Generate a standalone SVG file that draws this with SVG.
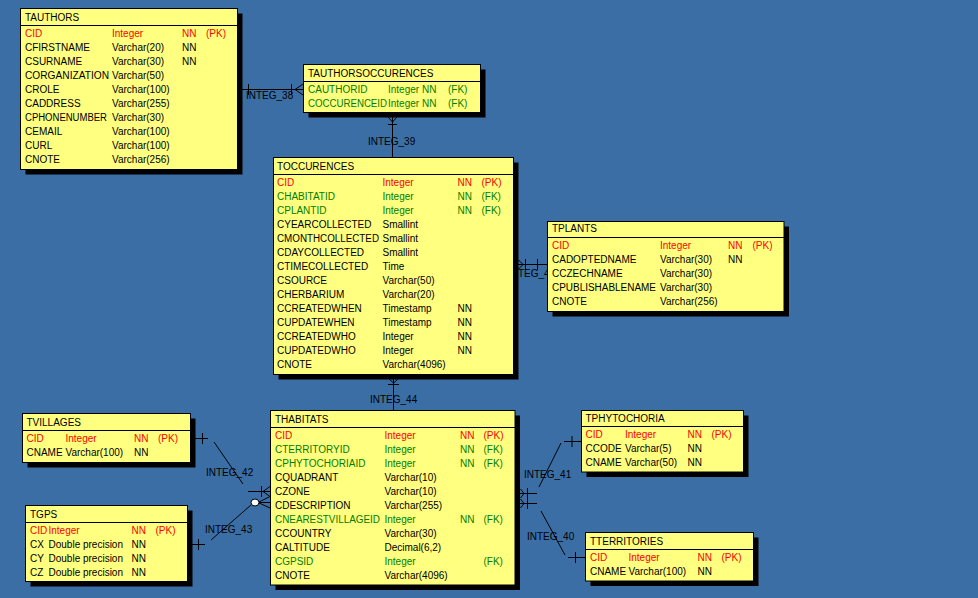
<svg xmlns="http://www.w3.org/2000/svg" width="978" height="598" viewBox="0 0 978 598">
<style>
text{font-family:"Liberation Sans",Arial,sans-serif;font-size:10px;fill:#000}
.r{fill:#ff0000}
.g{fill:#008000}
.box{fill:#ffff80;stroke:#000;stroke-width:1}
.sh{fill:#000}
.sep{stroke:#000;stroke-width:1}
.c line,.c polyline{stroke:#000;stroke-width:1;fill:none}
</style>
<rect width="978" height="598" fill="#3a6ea5"/>
<g id="connectors" class="c">
  <!-- INTEG_38 -->
  <line x1="242" y1="89.5" x2="303" y2="89.5"/>
  <line x1="248.5" y1="84" x2="248.5" y2="95"/>
  <line x1="291.5" y1="84" x2="291.5" y2="95"/>
  <polyline points="303,84 295,89.5 303,95"/>
  <text x="246" y="99">INTEG_38</text>
  <!-- INTEG_39 -->
  <line x1="392.5" y1="117" x2="392.5" y2="157"/>
  <polyline points="388,117 392.5,122 397,117"/>
  <line x1="388" y1="124.5" x2="397" y2="124.5"/>
  <text x="368" y="145">INTEG_39</text>
  <!-- INTEG_44 -->
  <line x1="393.5" y1="379" x2="393.5" y2="410"/>
  <polyline points="389,379 393.5,383 398,379"/>
  <line x1="388" y1="384.5" x2="399" y2="384.5"/>
  <text x="370" y="403">INTEG_44</text>
  <!-- INTEG_4x to TPLANTS -->
  <line x1="518" y1="264.5" x2="547" y2="264.5"/>
  <polyline points="518.5,260 523,264.5 518.5,269"/>
  <line x1="525.5" y1="259" x2="525.5" y2="270"/>
  <line x1="537.5" y1="259" x2="537.5" y2="270"/>
  <text x="518" y="277">TEG_4</text>
  <!-- INTEG_42 -->
  <line x1="195" y1="438.5" x2="208" y2="438.5"/>
  <line x1="202.5" y1="433" x2="202.5" y2="444"/>
  <line x1="214" y1="442" x2="243" y2="484"/>
  <line x1="248" y1="491.5" x2="270" y2="491.5"/>
  <line x1="261.5" y1="486" x2="261.5" y2="497"/>
  <polyline points="270,486.5 263,491.5 270,496.5"/>
  <text x="206" y="476">INTEG_42</text>
  <!-- INTEG_43 -->
  <line x1="187" y1="544.5" x2="205" y2="544.5"/>
  <line x1="198.5" y1="539" x2="198.5" y2="550"/>
  <line x1="211" y1="540" x2="251" y2="505"/>
  <polyline points="270,496.5 258,502.5 270,508"/>
  <line x1="258" y1="502.5" x2="270" y2="502.5"/>
  <ellipse cx="255" cy="502.5" rx="4" ry="3.5" fill="#fff" stroke="#000"/>
  <text x="205" y="533">INTEG_43</text>
  <!-- INTEG_41 -->
  <line x1="520" y1="493.5" x2="537" y2="493.5"/>
  <polyline points="520.5,489 524,493.5 520.5,498"/>
  <line x1="527.5" y1="488" x2="527.5" y2="499"/>
  <line x1="539" y1="487" x2="561" y2="443"/>
  <line x1="564" y1="441.5" x2="582" y2="441.5"/>
  <line x1="572" y1="436" x2="572" y2="447"/>
  <text x="524" y="478">INTEG_41</text>
  <!-- INTEG_40 -->
  <line x1="520" y1="503.5" x2="537" y2="503.5"/>
  <polyline points="520.5,499 524,503.5 520.5,508"/>
  <line x1="527.5" y1="498" x2="527.5" y2="509"/>
  <line x1="541" y1="511" x2="565" y2="555"/>
  <line x1="568" y1="557.5" x2="586" y2="557.5"/>
  <line x1="575.5" y1="552" x2="575.5" y2="563"/>
  <text x="527" y="540">INTEG_40</text>
</g>

<g id="TAUTHORS">
  <rect class="sh" x="25.5" y="13.5" width="217" height="161"/>
  <rect class="box" x="20.5" y="8.5" width="217" height="161"/>
  <line class="sep" x1="20.5" y1="25.5" x2="237.5" y2="25.5"/>
  <text x="25" y="21">TAUTHORS</text>
  <text class="r" y="37"><tspan x="25">CID</tspan><tspan x="112">Integer</tspan><tspan x="182">NN</tspan><tspan x="206">(PK)</tspan></text>
  <text y="51"><tspan x="25">CFIRSTNAME</tspan><tspan x="112">Varchar(20)</tspan><tspan x="182">NN</tspan></text>
  <text y="65"><tspan x="25">CSURNAME</tspan><tspan x="112">Varchar(30)</tspan><tspan x="182">NN</tspan></text>
  <text y="79"><tspan x="25" textLength="84" lengthAdjust="spacingAndGlyphs">CORGANIZATION</tspan><tspan x="112">Varchar(50)</tspan></text>
  <text y="93"><tspan x="25">CROLE</tspan><tspan x="112">Varchar(100)</tspan></text>
  <text y="107"><tspan x="25">CADDRESS</tspan><tspan x="112">Varchar(255)</tspan></text>
  <text y="121"><tspan x="25" textLength="82" lengthAdjust="spacingAndGlyphs">CPHONENUMBER</tspan><tspan x="112">Varchar(30)</tspan></text>
  <text y="135"><tspan x="25">CEMAIL</tspan><tspan x="112">Varchar(100)</tspan></text>
  <text y="149"><tspan x="25">CURL</tspan><tspan x="112">Varchar(100)</tspan></text>
  <text y="163"><tspan x="25">CNOTE</tspan><tspan x="112">Varchar(256)</tspan></text>
</g>

<g id="TAUTHORSOCCURENCES">
  <rect class="sh" x="308.5" y="69.5" width="177" height="48"/>
  <rect class="box" x="303.5" y="64.5" width="177" height="48"/>
  <line class="sep" x1="303.5" y1="81.5" x2="480.5" y2="81.5"/>
  <text x="308" y="77">TAUTHORSOCCURENCES</text>
  <text class="g" y="93"><tspan x="308">CAUTHORID</tspan><tspan x="388">Integer NN</tspan><tspan x="448">(FK)</tspan></text>
  <text class="g" y="107"><tspan x="308" textLength="79" lengthAdjust="spacingAndGlyphs">COCCURENCEID</tspan><tspan x="388">Integer NN</tspan><tspan x="448">(FK)</tspan></text>
</g>

<g id="TOCCURENCES">
  <rect class="sh" x="278.5" y="162.5" width="240" height="217"/>
  <rect class="box" x="273.5" y="157.5" width="240" height="217"/>
  <line class="sep" x1="273.5" y1="174.5" x2="513.5" y2="174.5"/>
  <text x="277" y="170">TOCCURENCES</text>
  <text class="r" y="186"><tspan x="277">CID</tspan><tspan x="382.5">Integer</tspan><tspan x="457.5">NN</tspan><tspan x="481.5">(PK)</tspan></text>
  <text class="g" y="200"><tspan x="277">CHABITATID</tspan><tspan x="382.5">Integer</tspan><tspan x="457.5">NN</tspan><tspan x="481.5">(FK)</tspan></text>
  <text class="g" y="214"><tspan x="277">CPLANTID</tspan><tspan x="382.5">Integer</tspan><tspan x="457.5">NN</tspan><tspan x="481.5">(FK)</tspan></text>
  <text y="228"><tspan x="277">CYEARCOLLECTED</tspan><tspan x="382.5">Smallint</tspan></text>
  <text y="242"><tspan x="277" textLength="102" lengthAdjust="spacingAndGlyphs">CMONTHCOLLECTED</tspan><tspan x="382.5">Smallint</tspan></text>
  <text y="256"><tspan x="277">CDAYCOLLECTED</tspan><tspan x="382.5">Smallint</tspan></text>
  <text y="270"><tspan x="277">CTIMECOLLECTED</tspan><tspan x="382.5">Time</tspan></text>
  <text y="284"><tspan x="277">CSOURCE</tspan><tspan x="382.5">Varchar(50)</tspan></text>
  <text y="298"><tspan x="277">CHERBARIUM</tspan><tspan x="382.5">Varchar(20)</tspan></text>
  <text y="312"><tspan x="277">CCREATEDWHEN</tspan><tspan x="382.5">Timestamp</tspan><tspan x="457.5">NN</tspan></text>
  <text y="326"><tspan x="277">CUPDATEWHEN</tspan><tspan x="382.5">Timestamp</tspan><tspan x="457.5">NN</tspan></text>
  <text y="340"><tspan x="277">CCREATEDWHO</tspan><tspan x="382.5">Integer</tspan><tspan x="457.5">NN</tspan></text>
  <text y="354"><tspan x="277">CUPDATEDWHO</tspan><tspan x="382.5">Integer</tspan><tspan x="457.5">NN</tspan></text>
  <text y="368"><tspan x="277">CNOTE</tspan><tspan x="382.5">Varchar(4096)</tspan></text>
</g>

<g id="TPLANTS">
  <rect class="sh" x="552.5" y="226.5" width="236.5" height="90"/>
  <rect class="box" x="547.5" y="221.5" width="236.5" height="90"/>
  <line class="sep" x1="547.5" y1="237.5" x2="784" y2="237.5"/>
  <text x="552" y="232">TPLANTS</text>
  <text class="r" y="249"><tspan x="552">CID</tspan><tspan x="660">Integer</tspan><tspan x="728">NN</tspan><tspan x="752.5">(PK)</tspan></text>
  <text y="263"><tspan x="552">CADOPTEDNAME</tspan><tspan x="660">Varchar(30)</tspan><tspan x="728">NN</tspan></text>
  <text y="277"><tspan x="552">CCZECHNAME</tspan><tspan x="660">Varchar(30)</tspan></text>
  <text y="291"><tspan x="552" textLength="104" lengthAdjust="spacingAndGlyphs">CPUBLISHABLENAME</tspan><tspan x="660">Varchar(30)</tspan></text>
  <text y="305"><tspan x="552">CNOTE</tspan><tspan x="660">Varchar(256)</tspan></text>
</g>

<g id="TVILLAGES">
  <rect class="sh" x="27.5" y="418.5" width="168" height="49"/>
  <rect class="box" x="22.5" y="413.5" width="168" height="49"/>
  <line class="sep" x1="22.5" y1="430.5" x2="190.5" y2="430.5"/>
  <text x="26.5" y="426">TVILLAGES</text>
  <text class="r" y="442"><tspan x="26.5">CID</tspan><tspan x="65.5">Integer</tspan><tspan x="134">NN</tspan><tspan x="158">(PK)</tspan></text>
  <text y="456"><tspan x="26.5">CNAME</tspan><tspan x="65.5">Varchar(100)</tspan><tspan x="134">NN</tspan></text>
</g>

<g id="TGPS">
  <rect class="sh" x="30.5" y="510.5" width="162" height="76"/>
  <rect class="box" x="25.5" y="505.5" width="162" height="76"/>
  <line class="sep" x1="25.5" y1="522.5" x2="187.5" y2="522.5"/>
  <text x="30" y="518">TGPS</text>
  <text class="r" y="534"><tspan x="30">CID</tspan><tspan x="48.5">Integer</tspan><tspan x="131.5">NN</tspan><tspan x="155.5">(PK)</tspan></text>
  <text y="548"><tspan x="30">CX</tspan><tspan x="48.5">Double precision</tspan><tspan x="131.5">NN</tspan></text>
  <text y="562"><tspan x="30">CY</tspan><tspan x="48.5">Double precision</tspan><tspan x="131.5">NN</tspan></text>
  <text y="576"><tspan x="30">CZ</tspan><tspan x="48.5">Double precision</tspan><tspan x="131.5">NN</tspan></text>
</g>

<g id="THABITATS">
  <rect class="sh" x="275.5" y="415.5" width="244.5" height="174.5"/>
  <rect class="box" x="270.5" y="410.5" width="244.5" height="174.5"/>
  <line class="sep" x1="270.5" y1="427.5" x2="515" y2="427.5"/>
  <text x="275" y="423">THABITATS</text>
  <text class="r" y="439"><tspan x="275">CID</tspan><tspan x="384.5">Integer</tspan><tspan x="460">NN</tspan><tspan x="483.5">(PK)</tspan></text>
  <text class="g" y="453"><tspan x="275">CTERRITORYID</tspan><tspan x="384.5">Integer</tspan><tspan x="460">NN</tspan><tspan x="483.5">(FK)</tspan></text>
  <text class="g" y="467"><tspan x="275">CPHYTOCHORIAID</tspan><tspan x="384.5">Integer</tspan><tspan x="460">NN</tspan><tspan x="483.5">(FK)</tspan></text>
  <text y="481"><tspan x="275">CQUADRANT</tspan><tspan x="384.5">Varchar(10)</tspan></text>
  <text y="495"><tspan x="275">CZONE</tspan><tspan x="384.5">Varchar(10)</tspan></text>
  <text y="509"><tspan x="275">CDESCRIPTION</tspan><tspan x="384.5">Varchar(255)</tspan></text>
  <text class="g" y="523"><tspan x="275" textLength="105" lengthAdjust="spacingAndGlyphs">CNEARESTVILLAGEID</tspan><tspan x="384.5">Integer</tspan><tspan x="460">NN</tspan><tspan x="483.5">(FK)</tspan></text>
  <text y="537"><tspan x="275">CCOUNTRY</tspan><tspan x="384.5">Varchar(30)</tspan></text>
  <text y="551"><tspan x="275">CALTITUDE</tspan><tspan x="384.5">Decimal(6,2)</tspan></text>
  <text class="g" y="565"><tspan x="275">CGPSID</tspan><tspan x="384.5">Integer</tspan><tspan x="483.5">(FK)</tspan></text>
  <text y="579"><tspan x="275">CNOTE</tspan><tspan x="384.5">Varchar(4096)</tspan></text>
</g>

<g id="TPHYTOCHORIA">
  <rect class="sh" x="586.5" y="415.5" width="162" height="61.5"/>
  <rect class="box" x="581.5" y="410.5" width="162" height="61.5"/>
  <line class="sep" x1="581.5" y1="426.5" x2="743.5" y2="426.5"/>
  <text x="585.5" y="422">TPHYTOCHORIA</text>
  <text class="r" y="438"><tspan x="585.5">CID</tspan><tspan x="625">Integer</tspan><tspan x="687.5">NN</tspan><tspan x="711.5">(PK)</tspan></text>
  <text y="452"><tspan x="585.5">CCODE</tspan><tspan x="625">Varchar(5)</tspan><tspan x="687.5">NN</tspan></text>
  <text y="466"><tspan x="585.5">CNAME</tspan><tspan x="625">Varchar(50)</tspan><tspan x="687.5">NN</tspan></text>
</g>

<g id="TTERRITORIES">
  <rect class="sh" x="590.5" y="537.5" width="168" height="48.5"/>
  <rect class="box" x="585.5" y="532.5" width="168" height="48.5"/>
  <line class="sep" x1="585.5" y1="549.5" x2="753.5" y2="549.5"/>
  <text x="590" y="545">TTERRITORIES</text>
  <text class="r" y="561"><tspan x="590">CID</tspan><tspan x="628.5">Integer</tspan><tspan x="697.5">NN</tspan><tspan x="721.5">(PK)</tspan></text>
  <text y="575"><tspan x="590">CNAME</tspan><tspan x="628.5">Varchar(100)</tspan><tspan x="697.5">NN</tspan></text>
</g>
</svg>
